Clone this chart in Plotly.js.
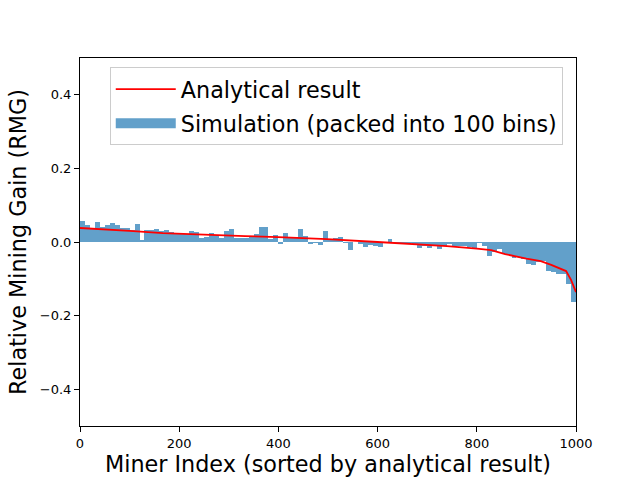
<!DOCTYPE html>
<html>
<head>
<meta charset="utf-8">
<script src="https://cdn.plot.ly/plotly-3.0.1.min.js"></script>
<style>html,body{margin:0;padding:0;background:#fff;}#chart{width:640px;height:480px;}</style>
</head>
<body>
<div id="chart"></div>
<script>
// Simulation result, packed into 100 bins of 10 miners each
var binWidth = 10;
var simValues = [
  0.056, 0.046, 0.036, 0.054, 0.040, 0.046, 0.052, 0.046, 0.038, 0.038,
  0.033, 0.049, 0.006, 0.033, 0.033, 0.035, 0.030, 0.033, 0.027, 0.025,
  0.024, 0.022, 0.030, 0.027, 0.011, 0.014, 0.024, 0.019, 0.011, 0.030,
  0.035, 0.011, 0.011, 0.011, 0.013, 0.022, 0.041, 0.041, 0.008, 0.019,
  -0.005, 0.025, 0.011, 0.011, 0.035, 0.016, -0.005, -0.003, -0.008, 0.030,
  0.008, 0.011, 0.014, -0.002, -0.022, -0.001, -0.005, -0.014, -0.008, -0.011,
  -0.014, -0.003, 0.008, -0.003, -0.003, -0.002, -0.004, -0.006, -0.015, -0.010,
  -0.015, -0.010, -0.020, -0.010, -0.006, -0.010, -0.012, -0.012, -0.014, -0.016,
  -0.003, -0.010, -0.037, -0.027, -0.018, -0.032, -0.035, -0.044, -0.041, -0.046,
  -0.060, -0.063, -0.054, -0.051, -0.079, -0.082, -0.087, -0.087, -0.114, -0.163
];
// Analytical result
var anaX = [0, 50, 100, 167, 200, 333, 400, 498, 600, 663, 740, 800, 829, 857, 883, 900, 929, 950, 980, 990, 1000];
var anaY = [0.038, 0.033, 0.030, 0.024, 0.022, 0.016, 0.013, 0.008, 0.000, -0.005, -0.011, -0.018, -0.022, -0.033, -0.041, -0.045, -0.052, -0.062, -0.079, -0.103, -0.136];
var xTicks = [0, 200, 400, 600, 800, 1000];
var yTicks = [-0.4, -0.2, 0.0, 0.2, 0.4];

var binCenters = simValues.map(function(v, i){ return i * binWidth + binWidth / 2; });
var barColor = 'rgba(31,119,180,0.7)';

var traces = [
  {
    type: 'bar',
    x: binCenters,
    y: simValues,
    width: binWidth,
    name: 'Simulation (packed into 100 bins)',
    marker: {color: barColor, line: {width: 0}},
    showlegend: false
  },
  {
    type: 'scatter',
    mode: 'lines',
    x: anaX,
    y: anaY,
    name: 'Analytical result',
    line: {color: 'red', width: 1.8},
    legendgroup: 'a',
    legendrank: 1
  },
  {
    // legend-only patch for the bar series (matplotlib-style wide rectangle)
    type: 'scatter',
    mode: 'lines',
    x: [null],
    y: [null],
    name: 'Simulation (packed into 100 bins)',
    line: {color: barColor, width: 15},
    legendgroup: 'b',
    legendrank: 2
  }
];

var font = 'DejaVu Sans, sans-serif';
var layout = {
  width: 640,
  height: 480,
  margin: {l: 80, r: 64, t: 58, b: 54},
  paper_bgcolor: '#fff',
  plot_bgcolor: '#fff',
  showlegend: true,
  bargap: 0,
  font: {family: font, color: '#000', size: 13},
  xaxis: {
    range: [0, 1000],
    tickvals: xTicks,
    ticks: 'outside', ticklen: 5, tickwidth: 1, tickcolor: '#000',
    showgrid: false, zeroline: false,
    showline: true, linecolor: '#000', linewidth: 1, mirror: true,
    tickfont: {family: font, size: 13, color: '#000'},
    title: {text: 'Miner Index (sorted by analytical result)', font: {family: font, size: 22.3, color: '#000'}, standoff: 4}
  },
  yaxis: {
    range: [-0.5, 0.5],
    tickvals: yTicks,
    tickformat: '.1f',
    ticks: 'outside', ticklen: 5, tickwidth: 1, tickcolor: '#000',
    showgrid: false, zeroline: false,
    showline: true, linecolor: '#000', linewidth: 1, mirror: true,
    tickfont: {family: font, size: 13, color: '#000'},
    title: {text: 'Relative Mining Gain (RMG)', font: {family: font, size: 22.3, color: '#000'}, standoff: 7}
  },
  legend: {
    x: 0.06, y: 0.975, xanchor: 'left', yanchor: 'top',
    bgcolor: 'rgba(255,255,255,0.8)',
    bordercolor: '#cccccc', borderwidth: 1,
    font: {family: font, size: 22.3, color: '#000'},
    traceorder: 'grouped',
    tracegroupgap: 2,
    itemwidth: 60
  }
};

Plotly.newPlot('chart', traces, layout, {displayModeBar: false, staticPlot: true});
</script>
</body>
</html>
